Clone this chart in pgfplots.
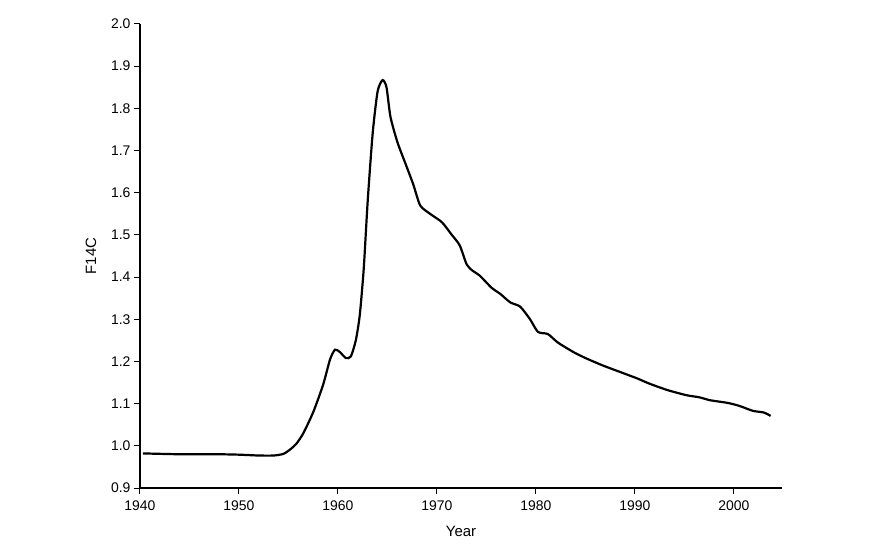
\documentclass[border=0pt]{standalone}
\usepackage{pgfplots}
\pgfplotsset{compat=1.18}
\usepackage{fontspec}
\setmainfont{Liberation Sans}
\begin{document}
\begin{tikzpicture}
\path[use as bounding box] (-140bp,-70bp) rectangle (742bp,488bp);
\begin{axis}[
  anchor=south west, at={(0,0)},
  width=642bp, height=464bp, scale only axis,
  xmin=1940, xmax=2004.85, ymin=0.9, ymax=2.0,
  axis lines*=left,
  axis line style={line width=1.1bp},
  tick style={line width=1bp, black},
  tick align=outside,
  major tick length=6bp,
  xtick={1940,1950,1960,1970,1980,1990,2000},
  ytick={0.9,1.0,1.1,1.2,1.3,1.4,1.5,1.6,1.7,1.8,1.9,2.0},
  /pgf/number format/assume math mode=true,
  xticklabel shift=3bp,
  xticklabel style={/pgf/number format/1000 sep={}, font=\fontsize{14}{16}\selectfont},
  yticklabel style={/pgf/number format/fixed, /pgf/number format/fixed zerofill, /pgf/number format/precision=1, font=\fontsize{14}{16}\selectfont},
  xlabel={Year}, ylabel={F14C},
  xlabel shift=9bp, ylabel shift=8bp,
  label style={font=\fontsize{15}{17}\selectfont},
  clip=false,
]
\addplot[black, line width=2.2bp, smooth, tension=0.4] coordinates {
(1940.3,0.982) (1942,0.981) (1944,0.980) (1946,0.980) (1948,0.980) (1950,0.979)
(1952,0.977) (1953.5,0.977) (1954.5,0.981) (1955.2,0.992) (1955.8,1.005)
(1956.5,1.030) (1957.5,1.080) (1958.5,1.145) (1959.2,1.205) (1959.7,1.228)
(1960.2,1.222) (1960.8,1.208) (1961.3,1.212) (1961.8,1.250) (1962.2,1.310)
(1962.6,1.420) (1963.0,1.580) (1963.5,1.740) (1964.0,1.840) (1964.5,1.867)
(1964.9,1.850) (1965.3,1.780) (1966.0,1.720) (1966.8,1.670) (1967.6,1.620)
(1968.3,1.570) (1969.3,1.550) (1970.5,1.530) (1971.5,1.500) (1972.3,1.475)
(1973.0,1.430) (1973.6,1.415) (1974.3,1.404) (1975.5,1.375) (1976.4,1.360)
(1977.4,1.340) (1978.4,1.330) (1979.4,1.300) (1980.2,1.270) (1981.2,1.265)
(1982.2,1.245) (1983.8,1.222) (1985.1,1.207) (1986.8,1.190) (1988.5,1.175)
(1990.2,1.160) (1991.5,1.147) (1993.3,1.132) (1995.2,1.120) (1996.5,1.115)
(1997.6,1.108) (1999.3,1.102) (2000.5,1.095) (2001.9,1.083) (2003.0,1.079)
(2003.7,1.071)
};
\end{axis}
\end{tikzpicture}
\end{document}
